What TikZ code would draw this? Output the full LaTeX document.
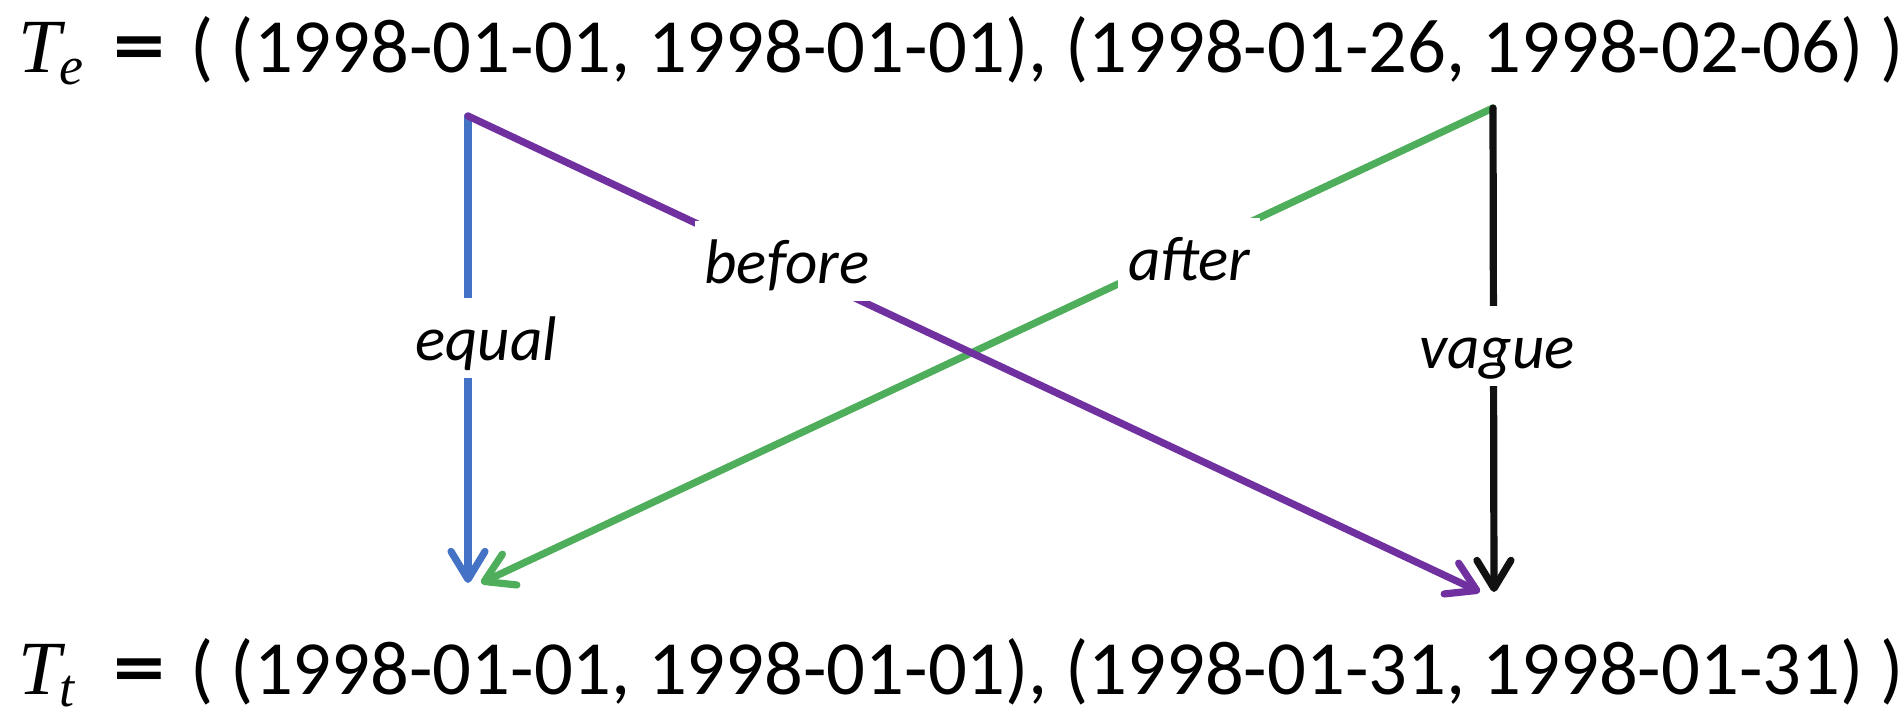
\documentclass[tikz,border=0pt]{standalone}
\usepackage{fontspec}
\usepackage{graphicx}
\setmainfont{Carlito}
\newfontfamily\serifit{Liberation Serif}[ItalicFont=* Italic]
\usetikzlibrary{arrows.meta}
\definecolor{cblue}{HTML}{4472C4}
\definecolor{cpurple}{HTML}{7030A0}
\definecolor{cgreen}{HTML}{4FAE5C}
\definecolor{cblack}{HTML}{111111}
\newcommand{\lhsvar}[1]{\makebox[86pt][l]{\rlap{\serifit\itshape T}\hspace*{20.5pt}\rlap{\raisebox{-6pt}{\fontsize{27pt}{30pt}\selectfont\serifit\itshape #1}}\hspace*{27pt}\rlap{\fontsize{40pt}{46pt}\selectfont\bfseries\scalebox{1.3}[1]{=}}}}
\tikzset{
  conn/.style={line width=3.6pt, line cap=round,
    -{Straight Barb[round, length=14pt, width=17pt]}},
  eqn/.style={inner sep=0pt, anchor=base west, font=\fontsize{38.3pt}{46pt}\selectfont},
  lbl/.style={fill=white, inner xsep=5pt, inner ysep=0pt, text height=31pt, text depth=9pt,
    anchor=base, font=\fontsize{31.5pt}{38pt}\selectfont\itshape}
}
\begin{document}
\begin{tikzpicture}[x=0.5pt, y=-0.5pt]
\useasboundingbox (0,0) rectangle (1902,728);
\node[eqn] (te) at (18,72) {\lhsvar{e}( (1998-01-01, 1998-01-01), (1998-01-26, 1998-02-06) )};
\node[eqn] (tt) at (18,694) {\lhsvar{t}( (1998-01-01, 1998-01-01), (1998-01-31, 1998-01-31) )};
\coordinate (eL) at (468,116);
\coordinate (eR) at (1493,108);
\coordinate (tL) at (468,583);
\coordinate (tLg) at (481,583);
\coordinate (tR) at (1494,592);
\coordinate (tRp) at (1480,592);
\draw[conn, cblue] (eL) -- (tL);
\draw[conn, cgreen] (eR) -- (tLg);
\draw[conn, cpurple] (eL) -- (tRp);
\draw[conn, cblack] (eR) -- (tR);
\node[lbl] (lequal) at (486,360) {equal};
\node[lbl] (lbefore) at (787,283) {before};
\node[lbl] (lafter) at (1189,280) {after};
\node[lbl] (lvague) at (1497,368) {vague};
\end{tikzpicture}
\end{document}
